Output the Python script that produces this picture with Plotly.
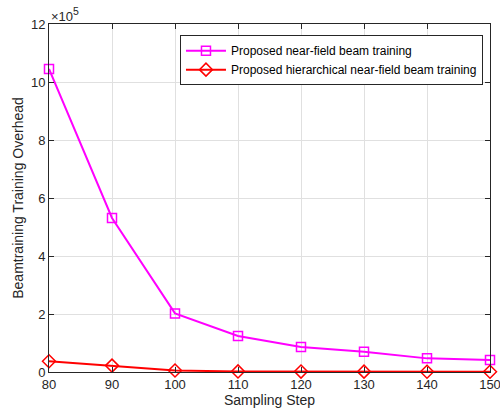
import plotly.graph_objects as go

sampling_step = [80, 90, 100, 110, 120, 130, 140, 150]
overhead_near_field = [1.045e6, 5.31e5, 2.02e5, 1.24e5, 0.86e5, 0.70e5, 0.47e5, 0.41e5]
overhead_hierarchical = [0.37e5, 0.22e5, 0.05e5, 0.02e5, 0.015e5, 0.012e5, 0.01e5, 0.01e5]
y_tick_vals = [0, 2e5, 4e5, 6e5, 8e5, 10e5, 12e5]
y_tick_text = ["0", "2", "4", "6", "8", "10", "12"]
x_tick_vals = [80, 90, 100, 110, 120, 130, 140, 150]

font_family = "Liberation Sans, Arial, sans-serif"

fig = go.Figure()
fig.add_trace(go.Scatter(
    x=sampling_step, y=overhead_near_field, mode="lines+markers",
    name="Proposed near-field beam training",
    line=dict(color="#ff00ff", width=2),
    marker=dict(symbol="square-open", size=9, color="#ff00ff", line=dict(width=1.5)),
    cliponaxis=False,
))
fig.add_trace(go.Scatter(
    x=sampling_step, y=overhead_hierarchical, mode="lines+markers",
    name="Proposed hierarchical near-field beam training",
    line=dict(color="#ff0000", width=2),
    marker=dict(symbol="diamond-open", size=10, color="#ff0000", line=dict(width=1.5)),
    cliponaxis=False,
))

axis_common = dict(
    showline=True, linecolor="#262626", linewidth=1, mirror="ticks",
    ticks="inside", ticklen=5, tickcolor="#262626",
    showgrid=True, gridcolor="#e0e0e0", gridwidth=1,
    zeroline=False, tickfont=dict(family=font_family, size=13, color="#262626"),
    automargin=False, ticklabeloverflow="allow",
)

fig.update_layout(
    width=500, height=416,
    margin=dict(l=49, r=10, t=24, b=44),
    paper_bgcolor="white", plot_bgcolor="white",
    font=dict(family=font_family, color="#262626"),
    showlegend=True,
    legend=dict(
        x=0.297, y=0.968, xanchor="left", yanchor="top",
        bordercolor="#262626", borderwidth=1, bgcolor="white",
        font=dict(family=font_family, size=12, color="black"),
        tracegroupgap=0, itemwidth=40,
    ),
    xaxis=dict(
        range=[80, 150], tickvals=x_tick_vals,
        title=dict(text="Sampling Step", font=dict(family=font_family, size=14, color="#262626"), standoff=4),
        **axis_common,
    ),
    yaxis=dict(
        range=[0, 1.2e6], tickvals=y_tick_vals, ticktext=y_tick_text,
        title=dict(text="Beamtraining Training Overhead", font=dict(family=font_family, size=14, color="#262626"), standoff=4),
        **axis_common,
    ),
)

fig.add_annotation(
    xref="paper", yref="paper", x=0, y=1.0, xanchor="left", yanchor="bottom",
    text="×10<span style='font-size:15px'><sup>5</sup></span>", showarrow=False,
    font=dict(family=font_family, size=13, color="#262626"), yshift=-2,
)

# remove the default page margin so the 500x416 figure fills the window exactly
page_fix = "document.body.style.margin='0';document.body.style.overflow='hidden';"

fig.write_html("out.html", post_script=page_fix, config={"displayModeBar": False})
